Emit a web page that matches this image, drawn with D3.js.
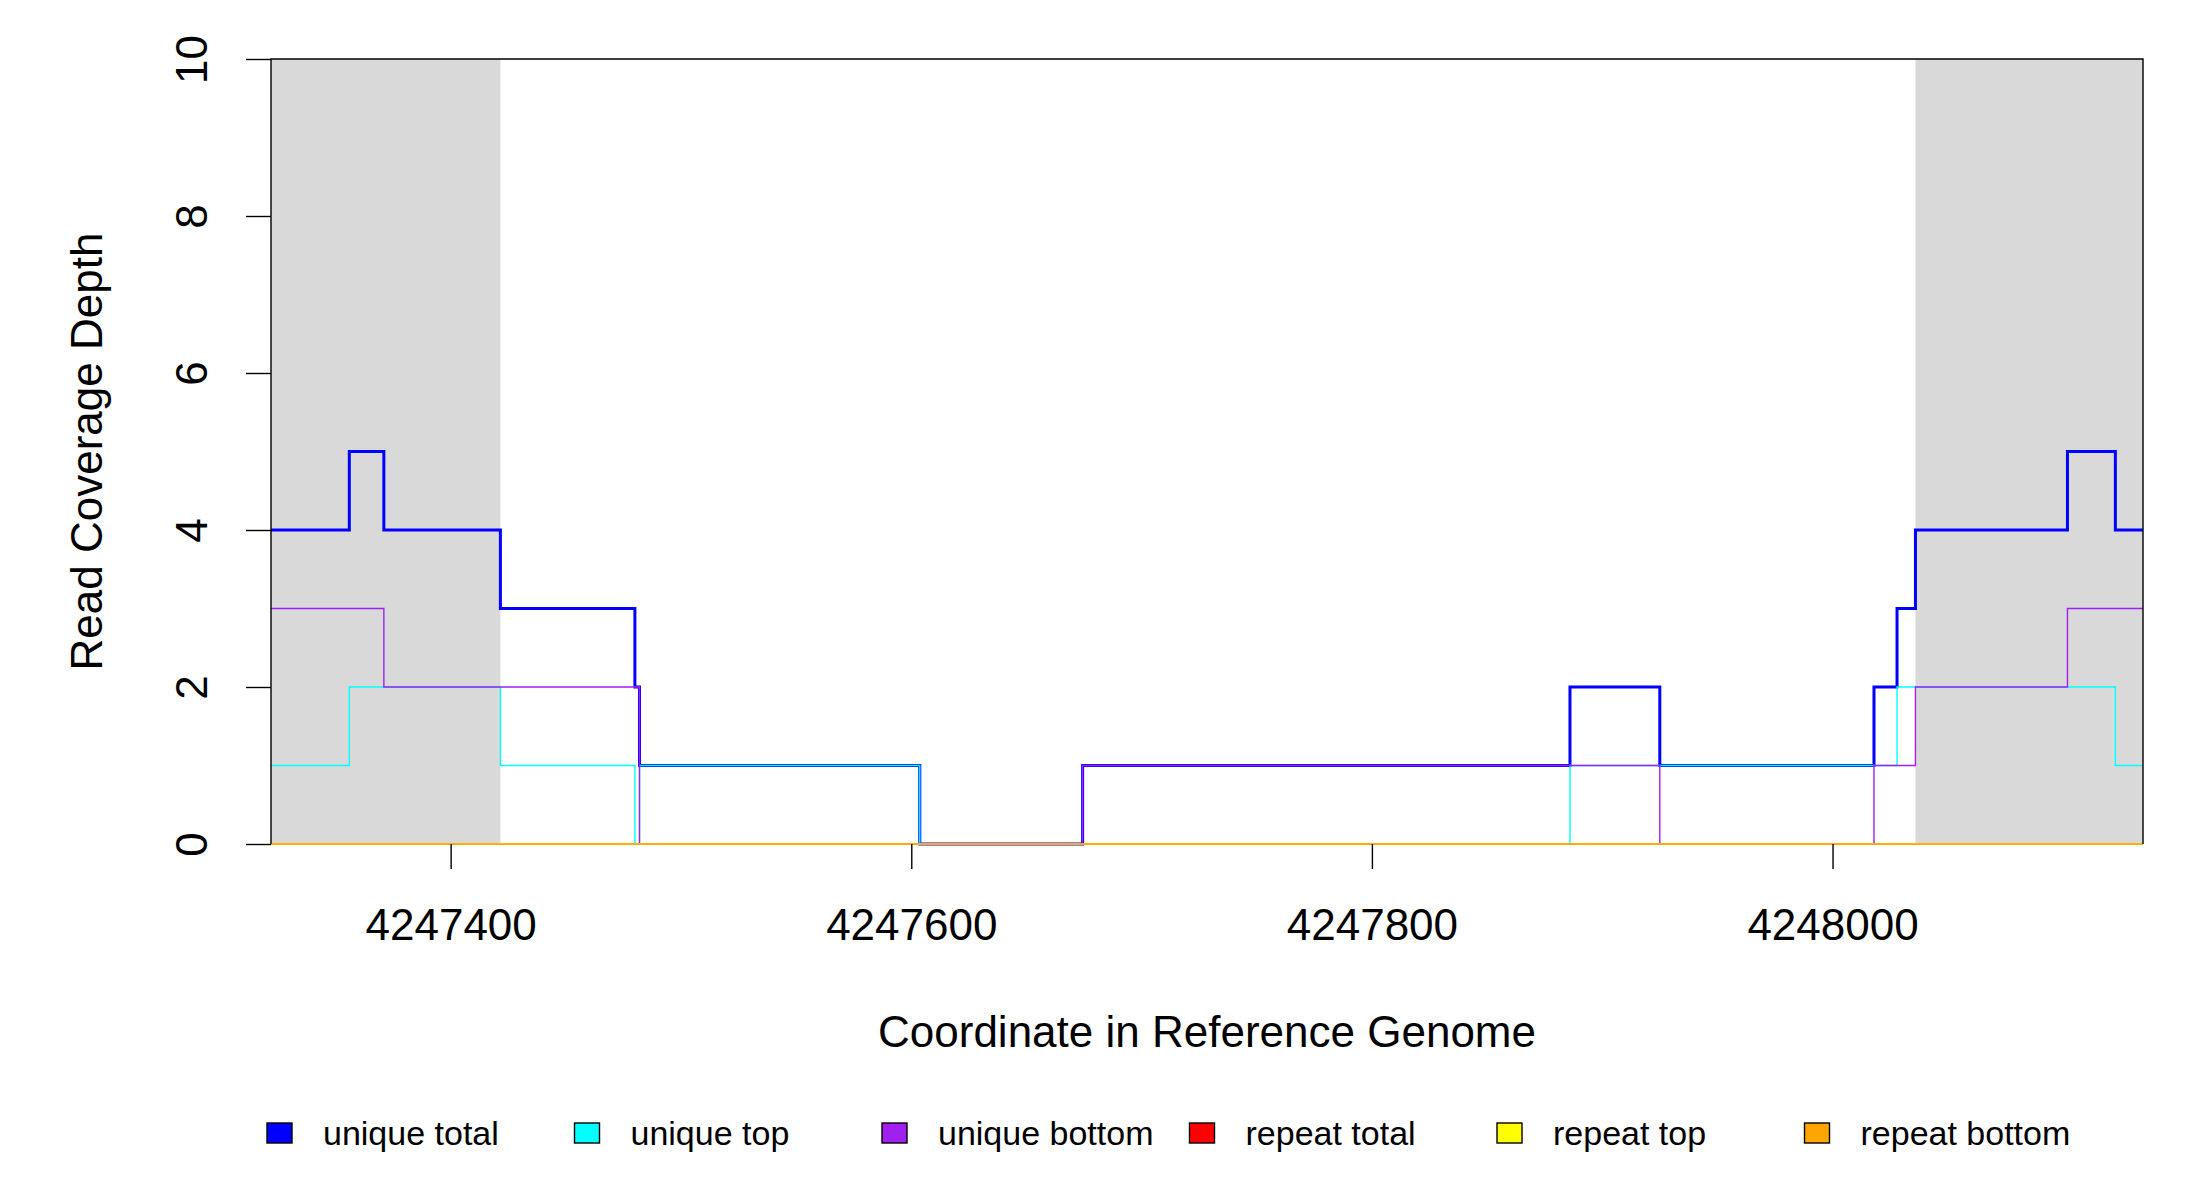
<!DOCTYPE html>
<html>
<head>
<meta charset="utf-8">
<script src="https://cdn.jsdelivr.net/npm/d3@7"></script>
<style>body{margin:0;background:#fff}text{font-family:"Liberation Sans",Arial,sans-serif}</style>
</head>
<body>
<script>
// step positions (genome coordinate where each segment begins), last value = end
var breaks = [4247322, 4247356, 4247371, 4247421.6, 4247480, 4247482, 4247603.7, 4247674.4,
              4247886, 4247925, 4248018, 4248028, 4248036, 4248102, 4248122.8, 4248134.8];
var uniqueTotal  = [4, 5, 4, 3, 2, 1, 0, 1, 2, 1, 2, 3, 4, 5, 4];
var uniqueTop    = [1, 2, 2, 1, 0, 1, 0, 0, 1, 1, 1, 2, 2, 2, 1];
var uniqueBottom = [3, 3, 2, 2, 2, 0, 0, 1, 1, 0, 1, 1, 2, 3, 3];
var repeatTotal  = [0, 0, 0, 0, 0, 0, 0, 0, 0, 0, 0, 0, 0, 0, 0];
var repeatTop    = [0, 0, 0, 0, 0, 0, 0, 0, 0, 0, 0, 0, 0, 0, 0];
var repeatBottom = [0, 0, 0, 0, 0, 0, 0, 0, 0, 0, 0, 0, 0, 0, 0];
var shaded = [[4247322, 4247421.6], [4248036, 4248134.8]];
var xTicks = [4247400, 4247600, 4247800, 4248000];
var yTicks = [0, 2, 4, 6, 8, 10];
var seriesNames = ["unique total", "unique top", "unique bottom", "repeat total", "repeat top", "repeat bottom"];
var seriesColors = ["#0000ff", "#00ffff", "#a020f0", "#ff0000", "#ffff00", "#ffa500"];
var seriesVals = [uniqueTotal, uniqueTop, uniqueBottom, repeatTotal, repeatTop, repeatBottom];

var W = 2200, H = 1200, L = 271, R = 2143, T = 59, B = 844;
var svg = d3.select("body").append("svg").attr("width", W).attr("height", H);
var x = d3.scaleLinear().domain([breaks[0], breaks[breaks.length - 1]]).range([L, R]);
var y = d3.scaleLinear().domain([0, 10]).range([B, T]);

svg.selectAll("rect.shade").data(shaded).enter().append("rect")
  .attr("x", function(d) {return x(d[0]);}).attr("y", T)
  .attr("width", function(d) {return x(d[1]) - x(d[0]);}).attr("height", B - T)
  .attr("fill", "#d9d9d9");

var line = d3.line().x(function(d) {return x(d[0]);}).y(function(d) {return y(d[1]);}).curve(d3.curveStepAfter);
seriesVals.forEach(function(vals, i) {
  var pts = vals.map(function(v, j) {return [breaks[j], v];});
  pts.push([breaks[breaks.length - 1], vals[vals.length - 1]]);
  svg.append("path").attr("d", line(pts)).attr("fill", "none")
    .attr("stroke", seriesColors[i]).attr("stroke-width", i == 0 ? 3 : 1.4);
});

// frame: top, left, right
svg.append("path").attr("d", "M" + L + "," + B + "V" + T + "H" + R + "V" + B)
  .attr("fill", "none").attr("stroke", "#000").attr("stroke-width", 1.4);

var xa = svg.append("g").attr("transform", "translate(0," + B + ")")
  .call(d3.axisBottom(x).tickValues(xTicks).tickSize(25).tickPadding(0).tickFormat(d3.format("d")));
xa.select(".domain").remove();
var ya = svg.append("g").attr("transform", "translate(" + L + ",0)")
  .call(d3.axisLeft(y).tickValues(yTicks).tickSize(25).tickFormat(d3.format("d")));
ya.select(".domain").remove();
svg.selectAll(".tick line").attr("stroke-width", 1.4);
svg.selectAll(".tick text").attr("font-size", 44).attr("fill", "#000");
xa.selectAll(".tick text").attr("y", 81).attr("dy", "0.35em");
ya.selectAll(".tick text").attr("text-anchor", "middle").attr("x", 0)
  .attr("transform", "translate(-79,0) rotate(-90)").attr("dy", "0.35em");

svg.append("text").attr("x", (L + R) / 2).attr("y", 1032).attr("dy", "0.35em").attr("text-anchor", "middle")
  .attr("font-size", 44).text("Coordinate in Reference Genome");
svg.append("text").attr("transform", "translate(87," + (T + B) / 2 + ") rotate(-90)")
  .attr("text-anchor", "middle").attr("dy", "0.35em").attr("font-size", 44).text("Read Coverage Depth");

var lg = svg.selectAll("g.leg").data(seriesNames).enter().append("g")
  .attr("transform", function(d, i) {return "translate(" + (267 + i * 307.5) + ",1133)";});
lg.append("rect").attr("x", 0).attr("y", -10).attr("width", 25).attr("height", 20)
  .attr("fill", function(d, i) {return seriesColors[i];}).attr("stroke", "#000").attr("stroke-width", 1.4);
lg.append("text").attr("x", 56).attr("dy", "0.35em").attr("font-size", 34).text(function(d) {return d;});
</script>
</body>
</html>
